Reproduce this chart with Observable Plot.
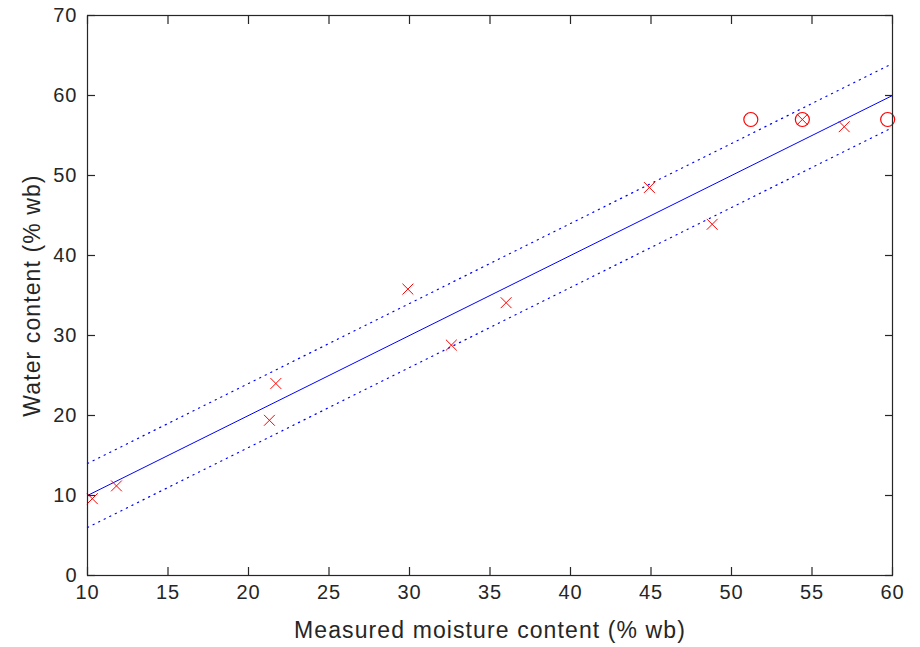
<!DOCTYPE html>
<html>
<head>
<meta charset="utf-8">
<script src="https://cdn.jsdelivr.net/npm/d3@7"></script>
<script src="https://cdn.jsdelivr.net/npm/@observablehq/plot@0.6"></script>
<style>
  body { margin: 0; background: #fff; }
  #chart svg { font-family: "Liberation Sans", Arial, sans-serif; }
  #chart svg g[aria-label="x-axis tick label"] text,
  #chart svg g[aria-label="y-axis tick label"] text { font-size: 20px; letter-spacing: 1px; }
  #chart svg g[aria-label="x-axis label"] text,
  #chart svg g[aria-label="y-axis label"] text { font-size: 23px; letter-spacing: 1.1px; }
</style>
</head>
<body>
<div id="chart"></div>
<script>
// Measured vs predicted (x markers)
const measuredX = [10.3, 11.8, 21.3, 21.7, 29.9, 32.6, 36.0, 44.9, 48.8, 54.4, 57.0];
const waterY    = [9.6, 11.2, 19.4, 24.0, 35.8, 28.8, 34.1, 48.5, 43.9, 57.0, 56.1];
// Circled points
const circleX = [51.2, 54.4, 59.7];
const circleY = [57.0, 57.0, 57.0];
// Reference line y = x and ±4 bands
const lineX = [10, 60];
const bandOffset = 4;
const xTicks = [10, 15, 20, 25, 30, 35, 40, 45, 50, 55, 60];
const yTicks = [0, 10, 20, 30, 40, 50, 60, 70];

const crosses = measuredX.map((x, i) => ({x, y: waterY[i]}));
const circles = circleX.map((x, i) => ({x, y: circleY[i]}));
const fitLine = lineX.map(x => ({x, y: x}));
const upper = lineX.map(x => ({x, y: x + bandOffset}));
const lower = lineX.map(x => ({x, y: x - bandOffset}));

const axisColor = "#262626";
const chart = Plot.plot({
  width: 920,
  height: 647,
  marginLeft: 87,
  marginRight: 28,
  marginTop: 15,
  marginBottom: 72,
  style: {fontSize: "20px", color: axisColor, background: "#fff"},
  x: {domain: [10, 60], ticks: xTicks},
  y: {domain: [0, 70], ticks: yTicks},
  marks: [
    Plot.line(upper, {x: "x", y: "y", stroke: "#0000ff", strokeWidth: 1.2, strokeDasharray: "1.2,5"}),
    Plot.line(lower, {x: "x", y: "y", stroke: "#0000ff", strokeWidth: 1.2, strokeDasharray: "1.2,5"}),
    Plot.line(fitLine, {x: "x", y: "y", stroke: "#0000ff", strokeWidth: 1}),
    Plot.dot(crosses, {x: "x", y: "y", symbol: "times", r: 5, stroke: "#ff0000", strokeWidth: 1}),
    Plot.dot(circles, {x: "x", y: "y", symbol: "circle", r: 7, stroke: "#ff0000", fill: "none", strokeWidth: 1.2}),
    Plot.frame({stroke: axisColor, strokeWidth: 1.2}),
    Plot.axisX(xTicks, {anchor: "bottom", tickSize: -8, tickPadding: 17, stroke: axisColor, strokeWidth: 1.2, fill: axisColor,
      label: "Measured moisture content (% wb)", labelAnchor: "center", labelOffset: 62, labelArrow: "none"}),
    Plot.axisX(xTicks, {anchor: "top", tickSize: -8, tickFormat: () => "", stroke: axisColor, strokeWidth: 1.2, label: null}),
    Plot.axisY(yTicks, {anchor: "left", tickSize: -8, tickPadding: 18, stroke: axisColor, strokeWidth: 1.2, fill: axisColor,
      label: "Water content (% wb)", labelAnchor: "center", labelOffset: 64, labelArrow: "none"}),
    Plot.axisY(yTicks, {anchor: "right", tickSize: -8, tickFormat: () => "", stroke: axisColor, strokeWidth: 1.2, label: null})
  ]
});
document.getElementById("chart").appendChild(chart);
</script>
</body>
</html>
